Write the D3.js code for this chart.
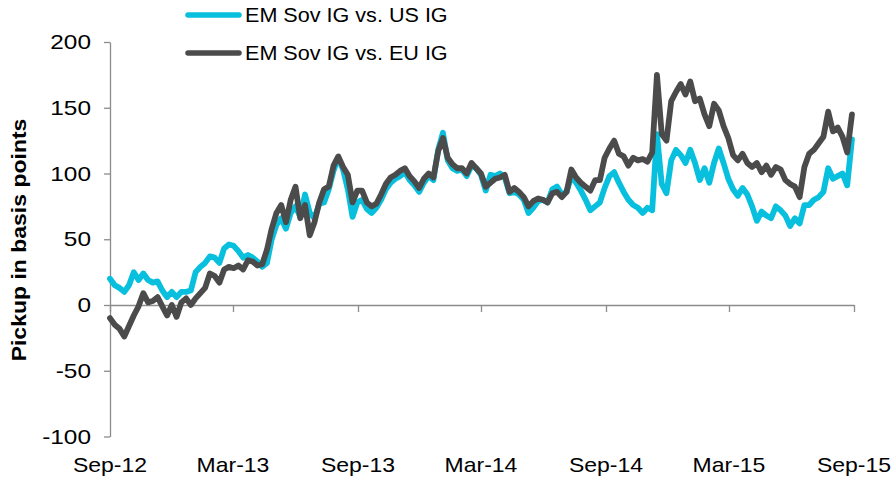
<!DOCTYPE html>
<html>
<head>
<meta charset="utf-8">
<script src="https://cdn.jsdelivr.net/npm/d3@7"></script>
<style>
html,body{margin:0;padding:0;background:#fff;}
svg{display:block;font-family:"Liberation Sans",Arial,sans-serif;}
</style>
</head>
<body>
<svg id="chart" width="895" height="480"></svg>
<script>
// ---- data ----
const startDate = "2012-09-01";          // first weekly observation
const seriesNames = ["EM Sov IG vs. US IG", "EM Sov IG vs. EU IG"];
const usValues = [
 20,15,13,10,15,25,19,24,19,17,18,11,6,10,6,10,10,11,25,29,
 32,37,36,32,43,46,45,41,36,38,36,33,29,32,50,61,66,58,70,75,
 67,84,70,66,77,78,88,102,112,103,88,67,78,80,73,70,74,80,88,93,
 96,98,101,95,91,86,93,98,95,118,131,110,104,102,103,98,106,104,99,87,
 99,98,100,97,85,86,84,80,70,74,79,80,78,88,90,84,86,98,93,87,
 80,72,75,78,89,98,101,93,86,80,76,74,70,74,72,130,92,85,110,118,
 114,108,118,108,95,104,93,108,119,108,96,88,83,89,84,75,64,71,68,66,
 75,72,68,60,66,62,76,76,80,82,86,104,96,98,100,91,126
];
const euValues = [
 -10,-15,-18,-24,-16,-8,-1,9,2,3,6,-1,-8,0,-9,2,5,0,5,9,
 13,24,22,17,27,29,28,30,27,34,33,30,31,42,58,70,76,63,80,90,
 66,76,53,63,78,88,90,106,113,105,99,78,87,87,78,75,77,84,92,97,
 99,102,104,98,94,89,96,100,97,117,127,112,107,104,104,100,108,104,100,90,
 93,96,97,99,86,89,86,82,75,79,81,80,78,85,86,82,86,103,97,93,
 90,87,95,95,112,119,125,115,113,106,112,110,111,109,116,175,130,125,155,162,
 168,160,170,155,157,145,136,153,148,136,127,114,110,115,108,105,108,101,106,99,
 105,103,95,92,90,82,105,115,118,123,128,147,132,135,128,116,145
];
const yTicks = [-100, -50, 0, 50, 100, 150, 200];
const xTickDates = ["2012-09-01","2013-03-01","2013-09-01","2014-03-01","2014-09-01","2015-03-01","2015-09-01"];
const xTickLabels = ["Sep-12","Mar-13","Sep-13","Mar-14","Sep-14","Mar-15","Sep-15"];
const yTitle = "Pickup in basis points";

// ---- build ----
const parse = d3.timeParse("%Y-%m-%d");
const t0 = parse(startDate);
const dates = usValues.map((_, i) => d3.timeDay.offset(t0, i * 7));
const tickDates = xTickDates.map(parse);

const svg = d3.select("#chart");
const x = d3.scaleTime().domain([tickDates[0], tickDates[tickDates.length - 1]]).range([110, 854]);
const y = d3.scaleLinear().domain([-100, 200]).range([436.5, 42]);

const axisColor = "#8c8c8c";
const fontSize = 20;
const sx = 1.15;

// y axis
const yAxis = svg.append("g").attr("transform", "translate(110,0)")
  .call(d3.axisLeft(y).tickValues(yTicks).tickSize(6).tickSizeOuter(0).tickFormat(""));
yAxis.select(".domain").attr("stroke", axisColor).attr("stroke-width", 1.3);
yAxis.selectAll(".tick line").attr("stroke", axisColor).attr("stroke-width", 1.3);

svg.append("g").selectAll("text").data(yTicks).join("text")
  .attr("transform", d => `translate(91,${y(d)}) scale(1.22,1)`)
  .attr("text-anchor", "end").attr("dy", "0.35em")
  .attr("font-size", fontSize).attr("fill", "#000")
  .text(d => d);

// x axis at zero
const xAxis = svg.append("g").attr("transform", `translate(0,${y(0)})`)
  .call(d3.axisBottom(x).tickValues(tickDates).tickSize(7).tickSizeOuter(0).tickFormat(""));
xAxis.select(".domain").attr("stroke", axisColor).attr("stroke-width", 1.3);
xAxis.selectAll(".tick line").attr("stroke", axisColor).attr("stroke-width", 1.3);

svg.append("g").selectAll("text").data(tickDates).join("text")
  .attr("transform", (d) => `translate(${x(d)},465) scale(${sx},1)`)
  .attr("text-anchor", "middle").attr("dy", "0.35em")
  .attr("font-size", fontSize).attr("fill", "#000")
  .text((d, i) => xTickLabels[i]);

// y title
svg.append("text")
  .attr("transform", `translate(19,240) rotate(-90) scale(${sx},1)`)
  .attr("text-anchor", "middle").attr("dy", "0.35em")
  .attr("font-size", fontSize).attr("font-weight", "bold").attr("fill", "#000")
  .text(yTitle);

// lines
const colors = ["#08c0dd", "#4b4b4b"];
const seriesVals = [usValues, euValues];
const line = d3.line().x((d, i) => x(dates[i])).y(d => y(d));
seriesVals.forEach((vals, k) => {
  svg.append("path").datum(vals)
    .attr("d", line)
    .attr("fill", "none").attr("stroke", colors[k])
    .attr("stroke-width", 5.8).attr("stroke-linejoin", "round").attr("stroke-linecap", "round");
});

// legend
const legY = [15, 53];
seriesNames.forEach((name, k) => {
  svg.append("line").attr("x1", 188).attr("x2", 239).attr("y1", legY[k]).attr("y2", legY[k])
    .attr("stroke", colors[k]).attr("stroke-width", 5.5).attr("stroke-linecap", "round");
  svg.append("text")
    .attr("transform", `translate(245,${legY[k]}) scale(1.08,1)`)
    .attr("dy", "0.35em").attr("font-size", fontSize).attr("fill", "#000")
    .text(name);
});
</script>
</body>
</html>
